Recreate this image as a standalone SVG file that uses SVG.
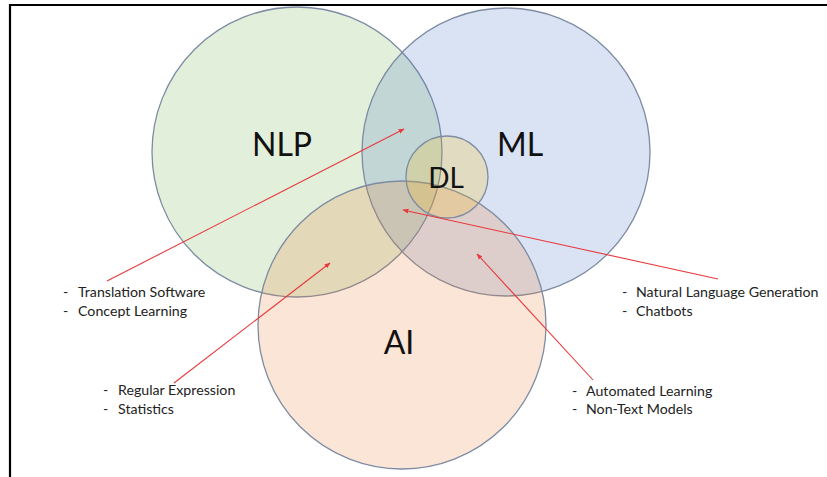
<svg xmlns="http://www.w3.org/2000/svg" width="827" height="477" viewBox="0 0 827 477">
  <defs>
    <marker id="arrow" viewBox="0 0 10 10" refX="9" refY="5" markerWidth="6" markerHeight="6" orient="auto" markerUnits="userSpaceOnUse">
      <path d="M0,1 L10,5 L0,9 z" fill="#e8393d"/>
    </marker>
    <style>
      .set { stroke: #7d8ba3; stroke-width: 1.3; }
      .big { font-family: Lato, "Open Sans", "Liberation Sans", sans-serif; font-size: 32px; fill: #111; text-anchor: middle; }
      .note { font-family: Lato, "Open Sans", "Liberation Sans", sans-serif; font-size: 14.2px; fill: #222; }
      .link { stroke: #e8393d; stroke-width: 1.1; fill: none; marker-end: url(#arrow); }
      .frame { stroke: #000; stroke-width: 2.2; fill: none; }
    </style>
  </defs>

  <rect width="827" height="477" fill="#ffffff"/>
  <path class="frame" d="M10,477 L10,5 L827,5"/>

  <g id="nlp">
    <circle class="set" cx="297" cy="152" r="145" fill="#70ad47" fill-opacity="0.2"/>
    <text class="big" x="282" y="156">NLP</text>
  </g>
  <g id="ml">
    <circle class="set" cx="506" cy="152" r="144" fill="#4472c4" fill-opacity="0.2"/>
    <text class="big" x="520" y="156">ML</text>
  </g>
  <g id="ai">
    <circle class="set" cx="402" cy="325" r="144" fill="#ed7d31" fill-opacity="0.2"/>
    <text class="big" x="399" y="354">AI</text>
  </g>
  <g id="dl">
    <circle class="set" cx="447" cy="177" r="41" fill="#ffc000" fill-opacity="0.2"/>
    <text class="big" x="446" y="188" style="font-size:28px">DL</text>
  </g>

  <g id="label-nlp-ml" class="note">
    <text x="63" y="297">-</text><text x="78" y="297">Translation Software</text>
    <text x="63" y="316">-</text><text x="78" y="316">Concept Learning</text>
  </g>
  <g id="label-nlp-ai" class="note">
    <text x="103" y="395">-</text><text x="118" y="395">Regular Expression</text>
    <text x="103" y="414">-</text><text x="118" y="414">Statistics</text>
  </g>
  <g id="label-all" class="note">
    <text x="622" y="297">-</text><text x="636" y="297">Natural Language Generation</text>
    <text x="622" y="316">-</text><text x="636" y="316">Chatbots</text>
  </g>
  <g id="label-ml-ai" class="note">
    <text x="572" y="396">-</text><text x="586" y="396">Automated Learning</text>
    <text x="572" y="414">-</text><text x="586" y="414">Non-Text Models</text>
  </g>

  <g id="connectors">
    <line class="link" x1="107" y1="281" x2="404" y2="129"/>
    <line class="link" x1="174" y1="383" x2="330" y2="263"/>
    <line class="link" x1="718" y1="279" x2="403" y2="210"/>
    <line class="link" x1="593" y1="380" x2="477" y2="254"/>
  </g>
</svg>
